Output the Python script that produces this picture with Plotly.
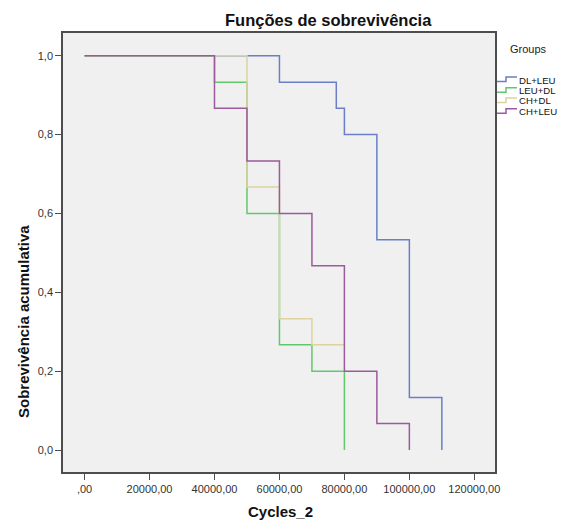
import plotly.graph_objects as go

# ---- data (Kaplan-Meier steps) ----
groups = ["DL+LEU", "LEU+DL", "CH+DL", "CH+LEU"]
dl_leu_x = [0, 60000, 77500, 80000, 90000, 100000, 110000]
dl_leu_y = [1.0, 0.933, 0.867, 0.800, 0.533, 0.133, 0.0]
leu_dl_x = [0, 40000, 50000, 60000, 70000, 80000]
leu_dl_y = [1.0, 0.933, 0.600, 0.267, 0.200, 0.0]
ch_dl_x = [0, 50000, 60000, 70000, 80000]
ch_dl_y = [1.0, 0.667, 0.333, 0.267, 0.267]
ch_leu_x = [0, 40000, 50000, 60000, 70000, 80000, 90000, 100000]
ch_leu_y = [1.0, 0.867, 0.733, 0.600, 0.467, 0.200, 0.067, 0.0]

x_ticks = [0, 20000, 40000, 60000, 80000, 100000, 120000]
x_tick_text = [",00", "20000,00", "40000,00", "60000,00", "80000,00", "100000,00", "120000,00"]
y_ticks = [0.0, 0.2, 0.4, 0.6, 0.8, 1.0]
y_tick_text = ["0,0", "0,2", "0,4", "0,6", "0,8", "1,0"]

colors = ["#6a7fc6", "#62c86c", "#dcd3a0", "#9b5a9c"]
series = [(dl_leu_x, dl_leu_y), (leu_dl_x, leu_dl_y), (ch_dl_x, ch_dl_y), (ch_leu_x, ch_leu_y)]

W, H = 563, 523
L, R, T, B = 63, 68, 33, 51
PW, PH = W - L - R, H - T - B
FONT = "Liberation Sans, Arial, sans-serif"


def px(x):
    return (x - L) / PW


def py(y):
    return (H - B - y) / PH


fig = go.Figure()
for name, (xs, ys), c in zip(groups, series, colors):
    fig.add_trace(go.Scatter(x=xs, y=ys, mode="lines", line=dict(color=c, width=1.5, shape="hv"),
                             name=name, showlegend=False, hoverinfo="skip"))

axis_common = dict(showline=True, linecolor="#4d4d4d", linewidth=1.6, mirror=True,
                   ticks="outside", ticklen=6, tickcolor="#4d4d4d", tickwidth=1.2,
                   showgrid=False, zeroline=False,
                   tickfont=dict(family=FONT, size=11, color="#333333"))

fig.update_xaxes(range=[-6646, 126369], tickvals=x_ticks, ticktext=x_tick_text, **axis_common)
fig.update_yaxes(range=[-0.0558, 1.0576], tickvals=y_ticks, ticktext=y_tick_text, **axis_common)

annotations = [
    dict(text="<b>Funções de sobrevivência</b>", x=px(328), y=py(20), xref="paper", yref="paper",
         xanchor="center", yanchor="middle", showarrow=False,
         font=dict(family=FONT, size=16.5, color="#111111")),
    dict(text="<b>Cycles_2</b>", x=px(280), y=py(512), xref="paper", yref="paper",
         xanchor="center", yanchor="middle", showarrow=False,
         font=dict(family=FONT, size=15, color="#111111")),
    dict(text="<b>Sobrevivência acumulativa</b>", x=px(23), y=py(322), xref="paper", yref="paper",
         xanchor="center", yanchor="middle", textangle=-90, showarrow=False,
         font=dict(family=FONT, size=15, color="#111111")),
    dict(text="Groups", x=px(508), y=py(49), xref="paper", yref="paper",
         xanchor="left", yanchor="middle", showarrow=False,
         font=dict(family=FONT, size=11, color="#222222")),
]

shapes = []
row_y = [80, 90.7, 101, 111.7]
for name, c, ry in zip(groups, colors, row_y):
    annotations.append(dict(text=name, x=px(517), y=py(ry), xref="paper", yref="paper",
                            xanchor="left", yanchor="middle", showarrow=False,
                            font=dict(family=FONT, size=9.6, color="#111111")))
    path = (f"M {px(497)},{py(ry + 1.5)} L {px(506)},{py(ry + 1.5)} "
            f"L {px(506)},{py(ry - 3)} L {px(517)},{py(ry - 3)}")
    shapes.append(dict(type="path", path=path, xref="paper", yref="paper",
                       line=dict(color=c, width=1.5)))

fig.update_layout(width=W, height=H, margin=dict(l=L, r=R, t=T, b=B),
                  plot_bgcolor="#f0f0f0", paper_bgcolor="#ffffff",
                  annotations=annotations, shapes=shapes, showlegend=False)

fig.write_html("out.html", config={"displayModeBar": False},
               post_script="document.body.style.margin='0px';document.body.style.overflow='hidden';")
